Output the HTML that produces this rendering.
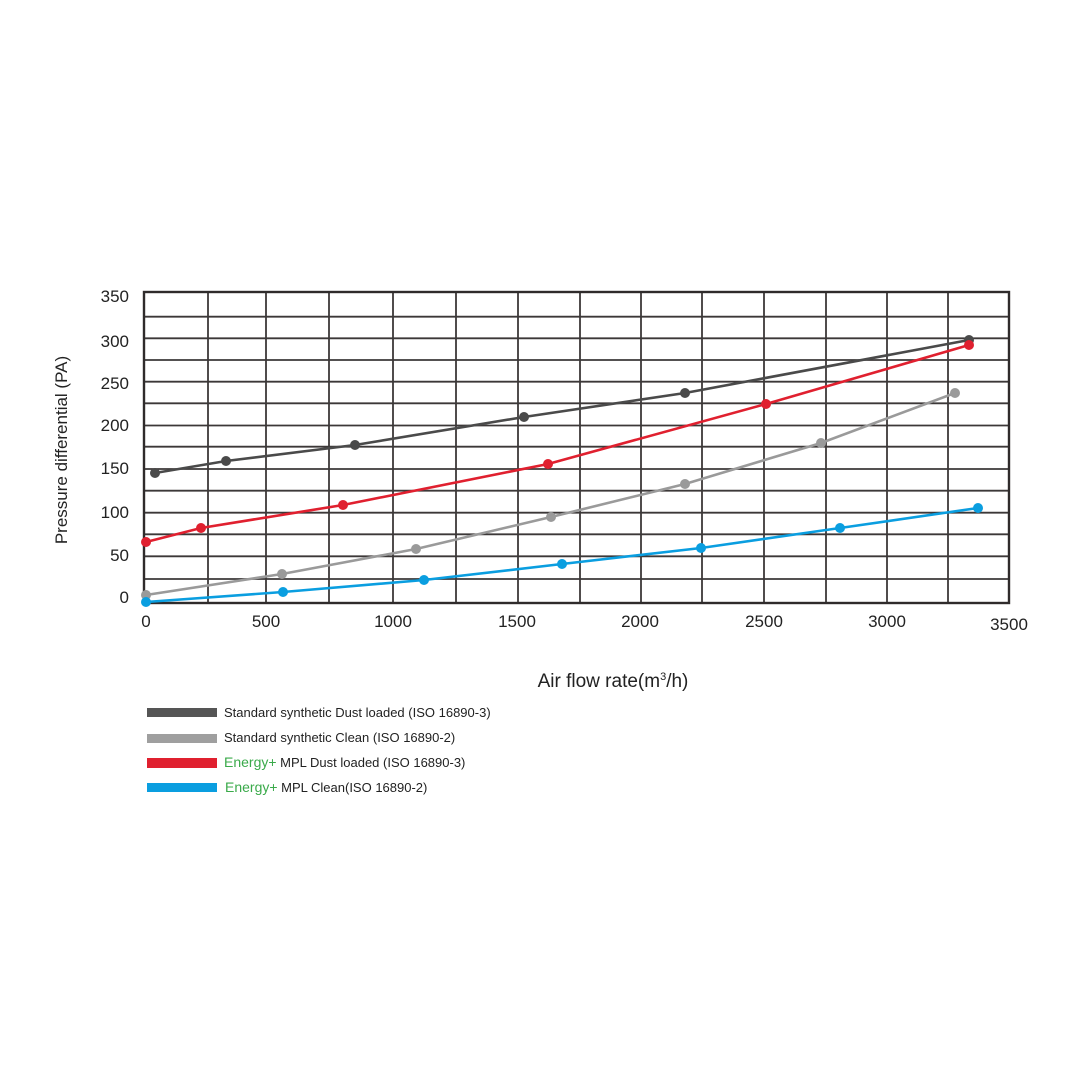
<!DOCTYPE html>
<html><head><meta charset="utf-8"><style>
html,body{margin:0;padding:0;background:#fff;}
svg{display:block;font-family:"Liberation Sans",sans-serif;}
</style></head><body>
<svg width="1066" height="1066" viewBox="0 0 1066 1066" xmlns="http://www.w3.org/2000/svg">
<rect width="1066" height="1066" fill="#fff"/>
<g stroke="#3c3838" stroke-width="1.8">
<line x1="208" y1="292" x2="208" y2="603"/><line x1="266" y1="292" x2="266" y2="603"/>
<line x1="329" y1="292" x2="329" y2="603"/><line x1="393" y1="292" x2="393" y2="603"/>
<line x1="456" y1="292" x2="456" y2="603"/><line x1="518" y1="292" x2="518" y2="603"/>
<line x1="580" y1="292" x2="580" y2="603"/><line x1="641" y1="292" x2="641" y2="603"/>
<line x1="702" y1="292" x2="702" y2="603"/><line x1="764" y1="292" x2="764" y2="603"/>
<line x1="826" y1="292" x2="826" y2="603"/><line x1="887" y1="292" x2="887" y2="603"/>
<line x1="948" y1="292" x2="948" y2="603"/>
<line x1="144" y1="316.7" x2="1009" y2="316.7"/><line x1="144" y1="338.3" x2="1009" y2="338.3"/>
<line x1="144" y1="360" x2="1009" y2="360"/><line x1="144" y1="381.7" x2="1009" y2="381.7"/>
<line x1="144" y1="403.3" x2="1009" y2="403.3"/><line x1="144" y1="425.5" x2="1009" y2="425.5"/>
<line x1="144" y1="446.7" x2="1009" y2="446.7"/><line x1="144" y1="469" x2="1009" y2="469"/>
<line x1="144" y1="490.7" x2="1009" y2="490.7"/><line x1="144" y1="512.7" x2="1009" y2="512.7"/>
<line x1="144" y1="534.3" x2="1009" y2="534.3"/><line x1="144" y1="556.3" x2="1009" y2="556.3"/>
<line x1="144" y1="579" x2="1009" y2="579"/>
</g>
<rect x="144" y="292" width="865" height="311" fill="none" stroke="#2f2b2b" stroke-width="2.4"/>
<g font-size="17" fill="#222" text-anchor="end">
<text x="129" y="302">350</text><text x="129" y="347">300</text><text x="129" y="389">250</text>
<text x="129" y="431">200</text><text x="129" y="474">150</text><text x="129" y="518">100</text>
<text x="129" y="561">50</text><text x="129" y="603">0</text>
</g>
<g font-size="17" fill="#222" text-anchor="middle">
<text x="146" y="627">0</text><text x="266" y="627">500</text><text x="393" y="627">1000</text>
<text x="517" y="627">1500</text><text x="640" y="627">2000</text><text x="764" y="627">2500</text>
<text x="887" y="627">3000</text><text x="1009" y="630">3500</text>
</g>
<text transform="translate(67,450) rotate(-90)" font-size="17" fill="#222" text-anchor="middle">Pressure differential (PA)</text>
<text x="613" y="687" font-size="19" fill="#222" text-anchor="middle">Air flow rate(m<tspan font-size="11" dy="-7">3</tspan><tspan dy="7">/h)</tspan></text>
<g fill="none" stroke-width="2.6">
<polyline stroke="#4a4a4a" points="155,473 226,461 355,445 524,417 685,393 969,340"/>
<polyline stroke="#e0202f" points="146,542 201,528 343,505 548,464 766,404 969,345"/>
<polyline stroke="#9a9a9a" points="146,595 282,574 416,549 551,517 685,484 821,443 955,393"/>
<polyline stroke="#0a9ee0" points="146,602 283,592 424,580 562,564 701,548 840,528 978,508"/>
</g>
<g fill="#4a4a4a"><circle cx="155" cy="473" r="5"/><circle cx="226" cy="461" r="5"/><circle cx="355" cy="445" r="5"/><circle cx="524" cy="417" r="5"/><circle cx="685" cy="393" r="5"/><circle cx="969" cy="340" r="5"/></g>
<g fill="#9a9a9a"><circle cx="146" cy="595" r="5"/><circle cx="282" cy="574" r="5"/><circle cx="416" cy="549" r="5"/><circle cx="551" cy="517" r="5"/><circle cx="685" cy="484" r="5"/><circle cx="821" cy="443" r="5"/><circle cx="955" cy="393" r="5"/></g>
<g fill="#e0202f"><circle cx="146" cy="542" r="5"/><circle cx="201" cy="528" r="5"/><circle cx="343" cy="505" r="5"/><circle cx="548" cy="464" r="5"/><circle cx="766" cy="404" r="5"/><circle cx="969" cy="345" r="5"/></g>
<g fill="#0a9ee0"><circle cx="146" cy="602" r="5"/><circle cx="283" cy="592" r="5"/><circle cx="424" cy="580" r="5"/><circle cx="562" cy="564" r="5"/><circle cx="701" cy="548" r="5"/><circle cx="840" cy="528" r="5"/><circle cx="978" cy="508" r="5"/></g>
<rect x="147" y="708" width="70" height="9" fill="#555"/>
<rect x="147" y="734" width="70" height="9" fill="#9f9f9f"/>
<rect x="147" y="758" width="70" height="10" fill="#e0202f"/>
<rect x="147" y="783" width="70" height="9" fill="#0a9ee0"/>
<g font-size="13" fill="#222">
<text x="224" y="717">Standard synthetic Dust loaded (ISO 16890-3)</text>
<text x="224" y="742">Standard synthetic Clean (ISO 16890-2)</text>
<text x="224" y="767"><tspan fill="#3aaa4a" font-size="14">Energy+</tspan> MPL Dust loaded (ISO 16890-3)</text>
<text x="225" y="792"><tspan fill="#3aaa4a" font-size="14">Energy+</tspan> MPL Clean(ISO 16890-2)</text>
</g>
</svg>
</body></html>
